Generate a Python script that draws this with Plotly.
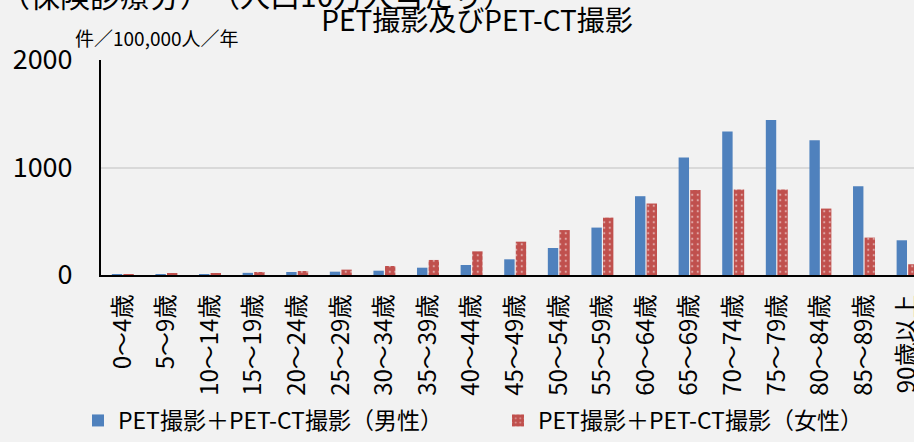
import plotly.graph_objects as go

categories = ["0～4歳", "5～9歳", "10～14歳", "15～19歳", "20～24歳", "25～29歳",
              "30～34歳", "35～39歳", "40～44歳", "45～49歳", "50～54歳", "55～59歳",
              "60～64歳", "65～69歳", "70～74歳", "75～79歳", "80～84歳", "85～89歳",
              "90歳以上"]
male = [1, 1, 8, 20, 28, 31, 40, 68, 93, 146, 251, 441, 733, 1093, 1335, 1443, 1254, 826, 323]
female = [6, 10, 18, 28, 37, 50, 84, 140, 220, 310, 418, 534, 665, 791, 795, 795, 618, 348, 100]
series_names = ["PET撮影＋PET-CT撮影（男性）", "PET撮影＋PET-CT撮影（女性）"]
y_ticks = [0, 1000, 2000]

FONT = "Noto Sans CJK JP"
W, H = 914, 442
L, R, T, B = 101, 0, 60, 167
PW, PH = W - L - R, H - T - B
cat_px = 43.6

fig = go.Figure()
fig.add_trace(go.Bar(x=categories, y=male, name=series_names[0],
                     marker=dict(color="#4F81BD", line=dict(width=0))))
fig.add_trace(go.Bar(x=categories, y=female, name=series_names[1],
                     marker=dict(color="#C0504D", line=dict(width=0),
                                 pattern=dict(shape=".", fgcolor="white", bgcolor="#C0504D",
                                              size=5.5, solidity=0.12))))

def px_x(px):
    return (px - L) / PW

def px_y(py):
    return (H - B - py) / PH

fig.update_layout(
    width=W, height=H,
    margin=dict(l=L, r=R, t=T, b=B, pad=0, autoexpand=False),
    paper_bgcolor="#F2F2F2", plot_bgcolor="#F2F2F2",
    font=dict(family=FONT, color="#000000"),
    barmode="group", bargap=0.47, bargroupgap=0.1,
    title=dict(text="PET撮影及びPET-CT撮影", x=477 / W, xref="container", xanchor="center",
               y=1 - 21 / H, yref="container", yanchor="middle",
               font=dict(family=FONT, size=28, color="#000000")),
    showlegend=True,
    legend=dict(orientation="h", x=px_x(78), xanchor="left", y=px_y(442), yanchor="bottom",
                font=dict(family=FONT, size=23, color="#000000"),
                entrywidth=375, entrywidthmode="pixels", bgcolor="rgba(0,0,0,0)",
                borderwidth=0, traceorder="normal"),
    xaxis=dict(range=[-0.5, -0.5 + PW / cat_px], showline=True, linecolor="#000000",
               linewidth=2, ticks="", tickangle=-90, showgrid=False, zeroline=False,
               tickfont=dict(family=FONT, size=24, color="#000000"),
               ticklabelstandoff=8, automargin=False),
    yaxis=dict(range=[0, 2000], tickvals=y_ticks, showline=True, linecolor="#000000",
               linewidth=2, ticks="", showgrid=True, gridcolor="#D9D9D9", gridwidth=2,
               zeroline=False, tickfont=dict(family=FONT, size=27, color="#000000"),
               ticklabelstandoff=21, automargin=False),
    annotations=[
        dict(text="件／100,000人／年", xref="paper", yref="paper", x=px_x(73), y=px_y(37),
             xanchor="left", yanchor="middle", showarrow=False,
             font=dict(family=FONT, size=19, color="#000000")),
        dict(text="（保険診療分）　（人口10万人当たり）", xref="paper", yref="paper",
             x=px_x(-2), y=px_y(-6), xanchor="left", yanchor="middle", showarrow=False,
             font=dict(family=FONT, size=30, color="#000000")),
    ],
)

fig.write_html("out.html", config={"displayModeBar": False},
               post_script="document.body.style.margin='0';document.body.style.overflow='hidden';"
                           "document.body.style.background='#F2F2F2';")
